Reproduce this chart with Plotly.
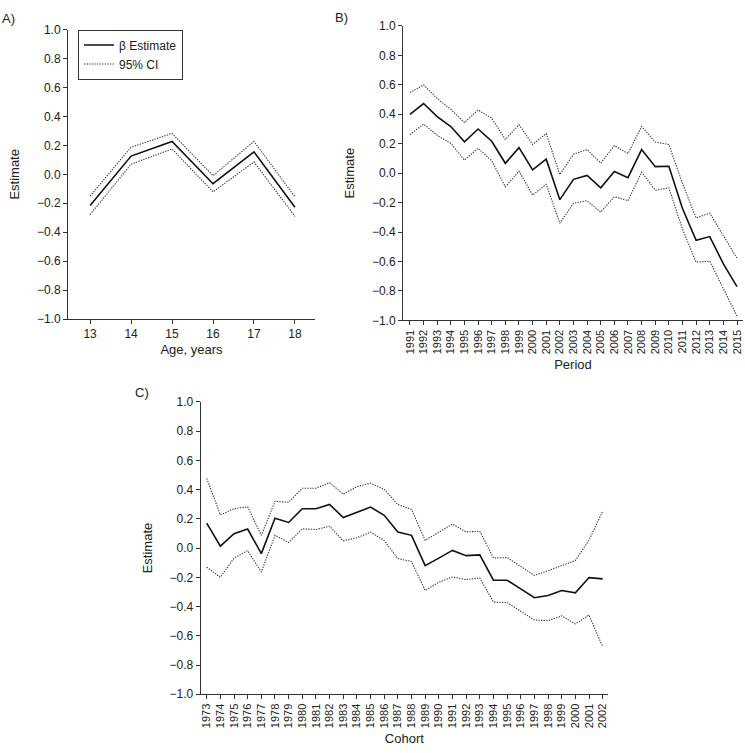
"""Age-period-cohort estimates with 95% CI, three panels."""

import plotly.graph_objects as go

# Panel A: age
AGE = [13, 14, 15, 16, 17, 18]
AGE_EST = [-0.216, 0.126, 0.227, -0.065, 0.155, -0.227]
AGE_UP = [-0.150, 0.187, 0.283, -0.009, 0.227, -0.155]
AGE_LO = [-0.279, 0.070, 0.175, -0.121, 0.085, -0.290]

# Panel B: period
PERIOD = list(range(1991, 2016))
PERIOD_EST = [0.400, 0.473, 0.384, 0.317, 0.213, 0.300, 0.217, 0.067, 0.173, 0.022,
              0.095, -0.180, -0.042, -0.016, -0.100, 0.011, -0.031, 0.160, 0.044, 0.047,
              -0.240, -0.456, -0.431, -0.616, -0.771]
PERIOD_UP = [0.547, 0.600, 0.507, 0.433, 0.344, 0.429, 0.373, 0.229, 0.329, 0.195,
             0.269, -0.010, 0.129, 0.160, 0.069, 0.187, 0.133, 0.317, 0.211, 0.195,
             -0.070, -0.305, -0.271, -0.427, -0.578]
PERIOD_LO = [0.262, 0.333, 0.257, 0.202, 0.089, 0.169, 0.084, -0.093, 0.013, -0.149,
             -0.076, -0.340, -0.205, -0.187, -0.265, -0.160, -0.187, 0.007, -0.116, -0.100,
             -0.380, -0.605, -0.598, -0.780, -0.971]

# Panel C: cohort
COHORT = list(range(1973, 2003))
COHORT_EST = [0.170, 0.013, 0.098, 0.130, -0.038, 0.204, 0.175, 0.269, 0.269, 0.298,
              0.209, 0.247, 0.280, 0.224, 0.109, 0.087, -0.120, -0.069, -0.016, -0.052,
              -0.047, -0.220, -0.220, -0.279, -0.340, -0.324, -0.290, -0.306, -0.202, -0.211]
COHORT_UP = [0.476, 0.227, 0.269, 0.282, 0.087, 0.320, 0.313, 0.409, 0.409, 0.447,
             0.369, 0.420, 0.444, 0.402, 0.298, 0.264, 0.053, 0.109, 0.164, 0.110,
             0.115, -0.068, -0.065, -0.126, -0.187, -0.155, -0.119, -0.085, 0.054, 0.252]
COHORT_LO = [-0.131, -0.200, -0.069, -0.018, -0.164, 0.087, 0.038, 0.131, 0.127, 0.149,
             0.049, 0.071, 0.109, 0.051, -0.072, -0.092, -0.290, -0.234, -0.198, -0.216,
             -0.204, -0.369, -0.373, -0.434, -0.492, -0.497, -0.463, -0.519, -0.458, -0.676]

Y_TICKS = [-1.0, -0.8, -0.6, -0.4, -0.2, 0.0, 0.2, 0.4, 0.6, 0.8, 1.0]

W, H = 745, 753
FONT = "Liberation Sans, Arial, sans-serif"
AXIS_COLOR = "#333333"
EST_COLOR = "#111111"
CI_COLOR = "#333333"
CI_DASH = "1.3px,1.3px"  # fine dotted, plotly's "dot" is too coarse


def px_x(a, b):
    return [a / W, b / W]


def px_y(top, bottom):
    return [1 - bottom / H, 1 - top / H]


fig = go.Figure()

panels = [
    ("x", "y", AGE, AGE_EST, AGE_UP, AGE_LO, True),
    ("x2", "y2", PERIOD, PERIOD_EST, PERIOD_UP, PERIOD_LO, False),
    ("x3", "y3", COHORT, COHORT_EST, COHORT_UP, COHORT_LO, False),
]

for xa, ya, xs, est, up, lo, show in panels:
    fig.add_trace(go.Scatter(
        x=xs, y=est, xaxis=xa, yaxis=ya, mode="lines",
        line=dict(color=EST_COLOR, width=1.6),
        name="β Estimate", legendgroup="est", showlegend=show,
    ))
    fig.add_trace(go.Scatter(
        x=xs, y=up, xaxis=xa, yaxis=ya, mode="lines",
        line=dict(color=CI_COLOR, width=1.1, dash=CI_DASH),
        name="95% CI", legendgroup="ci", showlegend=show,
    ))
    fig.add_trace(go.Scatter(
        x=xs, y=lo, xaxis=xa, yaxis=ya, mode="lines",
        line=dict(color=CI_COLOR, width=1.1, dash=CI_DASH),
        name="95% CI", legendgroup="ci", showlegend=False,
    ))

axis_common = dict(
    showline=True, linecolor=AXIS_COLOR, linewidth=1,
    ticks="outside", ticklen=4, tickcolor=AXIS_COLOR, tickwidth=1,
    showgrid=False, zeroline=False,
    tickfont=dict(size=12, color="#222222"),
    title_font=dict(size=13, color="#222222"),
)

y_common = dict(axis_common, range=[-1, 1], tickvals=Y_TICKS, tickformat=".1f",
                title_text="Estimate", title_standoff=14)

fig.update_layout(
    width=W, height=H,
    margin=dict(l=0, r=0, t=0, b=0),
    paper_bgcolor="white", plot_bgcolor="white",
    font=dict(family=FONT, size=12, color="#222222"),
    showlegend=True,
    legend=dict(
        x=78 / W, y=1 - 23 / H, xanchor="left", yanchor="top",
        bgcolor="white", bordercolor=AXIS_COLOR, borderwidth=1,
        font=dict(size=12), tracegroupgap=0, itemwidth=30,
    ),
    xaxis=dict(axis_common, domain=px_x(68, 315), range=[12.46, 18.49],
               tickvals=AGE, anchor="y", title_text="Age, years", title_standoff=4),
    yaxis=dict(y_common, domain=px_y(23, 318), anchor="x"),
    xaxis2=dict(axis_common, domain=px_x(403, 743), range=[1990.49, 2015.44],
                tickvals=PERIOD, tickangle=-90, tickfont=dict(size=11, color="#222222"),
                anchor="y2", title_text="Period", title_standoff=6),
    yaxis2=dict(y_common, domain=px_y(19.3, 319.3), anchor="x2"),
    xaxis3=dict(axis_common, domain=px_x(200.7, 608), range=[1972.56, 2002.39],
                tickvals=COHORT, tickangle=-90, tickfont=dict(size=11, color="#222222"),
                anchor="y3", title_text="Cohort", title_standoff=6),
    yaxis3=dict(y_common, domain=px_y(402.3, 700.3), anchor="x3"),
)

for label, x, y in [("A)", 0, 2), ("B)", 333, 1), ("C)", 133, 383)]:
    fig.add_annotation(
        text=label, x=x / W, y=1 - y / H, xref="paper", yref="paper",
        xanchor="left", yanchor="top", showarrow=False,
        font=dict(size=13, color="#222222"),
    )

# the default page has an 8px body margin; drop it so the figure sits at 0,0
fig.write_html(
    "out.html",
    config={"displayModeBar": False},
    post_script="document.body.style.margin='0';",
)
